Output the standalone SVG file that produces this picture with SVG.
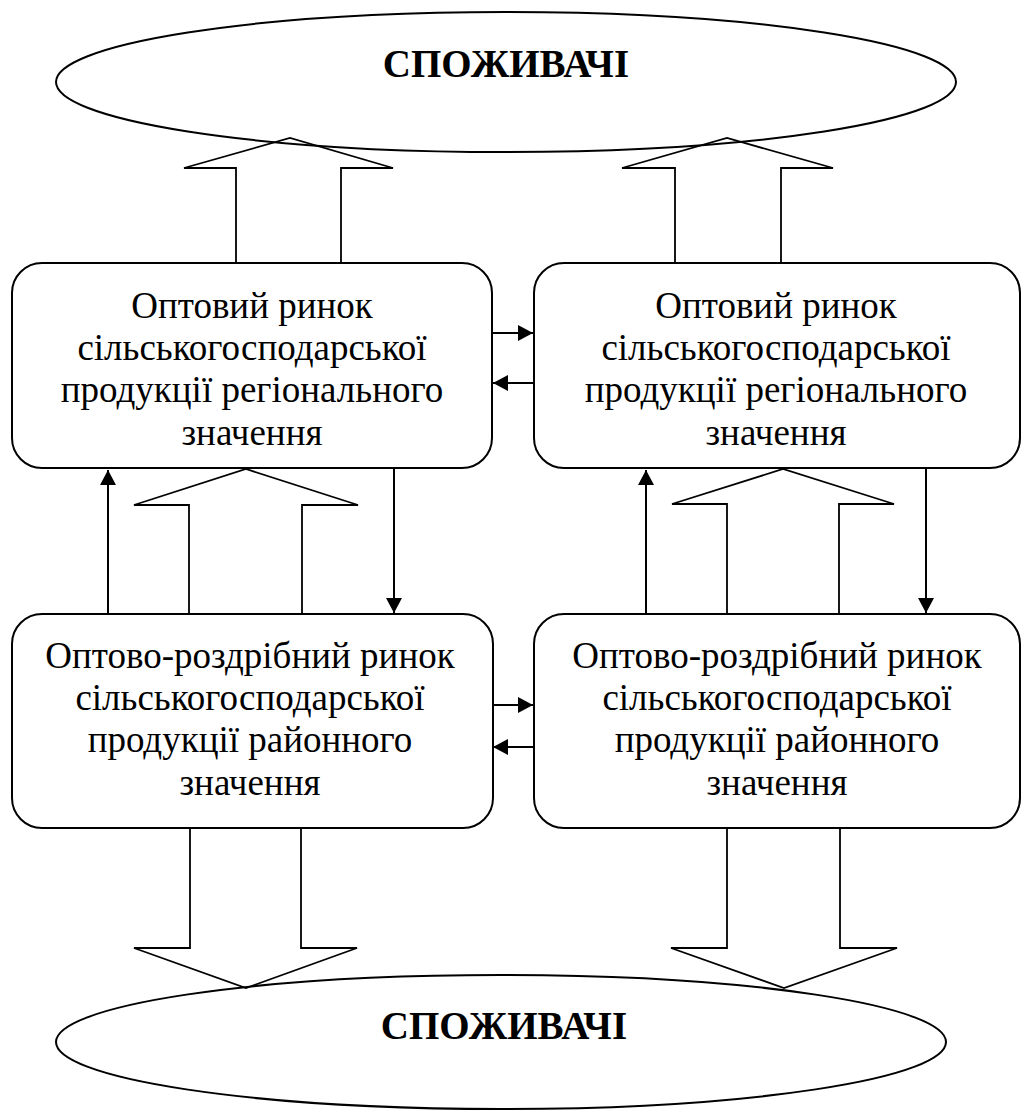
<svg xmlns="http://www.w3.org/2000/svg" width="1027" height="1111" viewBox="0 0 1027 1111">
<style>
.box{fill:#fff;stroke:#000;stroke-width:2}
.ell{fill:none;stroke:#000;stroke-width:2}
.blk{fill:#fff;stroke:#000;stroke-width:1.8;stroke-linejoin:miter}
.ln{stroke:#000;stroke-width:2;fill:none;marker-end:url(#ah)}
</style>
<defs>
<marker id="ah" markerUnits="userSpaceOnUse" markerWidth="18" markerHeight="18" viewBox="-16 -9 17 18" refX="0" refY="0" orient="auto">
<path d="M-15,-8 L0,0 L-15,8 Z" fill="#000"/>
</marker>
</defs>
<rect width="1027" height="1111" fill="#fff"/>
<g id="connectors">
<polygon class="blk" points="236,263 236,168 184,168 290,138 393,168 341,168 341,263"/>
<polygon class="blk" points="675,263 675,168 622,168 727,138 833,168 781,168 781,263"/>
<polygon class="blk" points="189,614 189,505 134,505 246,469 358,505 302,505 302,614"/>
<polygon class="blk" points="727,614 727,504 672,504 783,469 894,504 839,504 839,614"/>
<polygon class="blk" points="190,828 190,948 134,948 246,988 357,948 301,948 301,828"/>
<polygon class="blk" points="727,828 727,948 671,948 784,988 897,948 840,948 840,828"/>
<line class="ln" x1="108" y1="614" x2="108" y2="470"/>
<line class="ln" x1="394" y1="469" x2="394" y2="613"/>
<line class="ln" x1="646" y1="614" x2="646" y2="470"/>
<line class="ln" x1="926" y1="469" x2="926" y2="613"/>
<line class="ln" x1="492" y1="333" x2="533" y2="333"/>
<line class="ln" x1="534" y1="383" x2="493" y2="383"/>
<line class="ln" x1="492" y1="705" x2="533" y2="705"/>
<line class="ln" x1="534" y1="747" x2="493" y2="747"/>
</g>
<g font-family="Liberation Serif, Times New Roman, serif" text-anchor="middle" fill="#000">
<g id="consumers-top">
<ellipse class="ell" cx="506" cy="82" rx="450" ry="70"/>
<text x="506" y="77" font-size="39" font-weight="bold">СПОЖИВАЧІ</text>
</g>
<g id="consumers-bottom">
<ellipse class="ell" cx="501" cy="1042" rx="445" ry="67"/>
<text x="504" y="1039" font-size="39" font-weight="bold">СПОЖИВАЧІ</text>
</g>
<g id="regional-left" font-size="37">
<rect class="box" x="12" y="263" width="480" height="205" rx="30" ry="30"/>
<text x="252" y="318">Оптовий ринок</text>
<text x="252" y="360">сільськогосподарської</text>
<text x="252" y="402">продукції регіонального</text>
<text x="252" y="445">значення</text>
</g>
<g id="regional-right" font-size="37">
<rect class="box" x="534" y="263" width="486" height="205" rx="30" ry="30"/>
<text x="776" y="318">Оптовий ринок</text>
<text x="776" y="360">сільськогосподарської</text>
<text x="776" y="402">продукції регіонального</text>
<text x="776" y="445">значення</text>
</g>
<g id="district-left" font-size="37">
<rect class="box" x="12" y="614" width="481" height="214" rx="30" ry="30"/>
<text x="250" y="668">Оптово-роздрібний ринок</text>
<text x="250" y="710">сільськогосподарської</text>
<text x="250" y="752">продукції районного</text>
<text x="250" y="795">значення</text>
</g>
<g id="district-right" font-size="37">
<rect class="box" x="534" y="614" width="486" height="214" rx="30" ry="30"/>
<text x="777" y="668">Оптово-роздрібний ринок</text>
<text x="777" y="710">сільськогосподарської</text>
<text x="777" y="752">продукції районного</text>
<text x="777" y="795">значення</text>
</g>
</g>
</svg>
